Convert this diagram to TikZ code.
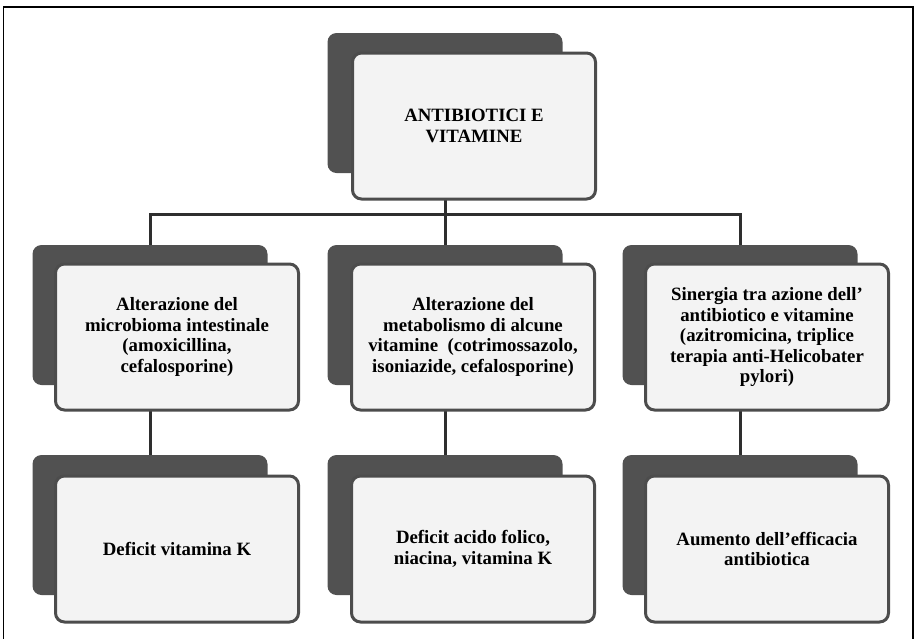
\documentclass[tikz,border=0pt]{standalone}
\usepackage{fontspec}
\setmainfont{Liberation Serif}
\usetikzlibrary{backgrounds}

\definecolor{backgray}{HTML}{515151}
\definecolor{edgegray}{HTML}{4C4C4C}
\definecolor{facegray}{HTML}{F3F3F3}
\definecolor{linkgray}{HTML}{2E2E2E}

\tikzset{
  backbox/.style={rectangle, rounded corners=9pt, fill=backgray, inner sep=0pt,
    minimum width=235pt, minimum height=140pt},
  frontbox/.style={rectangle, rounded corners=9pt, draw=edgegray, line width=3pt,
    fill=facegray, minimum width=243pt, minimum height=146pt, align=center,
    font=\bfseries\fontsize{18.8}{20.5}\selectfont},
  link/.style={draw=linkgray, line width=3pt},
}

\begin{document}
\begin{tikzpicture}[x=1pt, y=-1pt]
\useasboundingbox (0,0) rectangle (918,638);
%% cornice esterna
\draw[line width=1.3pt] (3.5,640) -- (3.5,7) -- (913,7) -- (913,640);

%% riquadri scuri dietro
\node[backbox] (rootback) at (445,103) {};
\node[backbox] (altback1) at (150,315) {};
\node[backbox] (altback2) at (445,315) {};
\node[backbox] (altback3) at (740,315) {};
\node[backbox] (defback1) at (150,525) {};
\node[backbox] (defback2) at (445,525) {};
\node[backbox] (defback3) at (740,525) {};

%% riquadri chiari con testo
\node[frontbox] (root) at (474,126) {ANTIBIOTICI E\\VITAMINE};
\node[frontbox] (alt1) at (177,337) {Alterazione del\\microbioma intestinale\\(amoxicillina,\\cefalosporine)};
\node[frontbox] (alt2) at (473,337) {Alterazione del\\metabolismo di alcune\\vitamine~ (cotrimossazolo,\\isoniazide, cefalosporine)};
\node[frontbox] (alt3) at (767,337) {Sinergia tra azione dell'\\antibiotico e vitamine\\(azitromicina, triplice\\terapia anti-Helicobater\\pylori)};
\node[frontbox] (def1) at (177,549) {Deficit vitamina K};
\node[frontbox] (def2) at (473,549) {Deficit acido folico,\\niacina, vitamina K};
\node[frontbox] (def3) at (767,549) {Aumento dell'efficacia\\antibiotica};

%% collegamenti
\begin{scope}[on background layer]
\coordinate (bus) at (445,214);
\draw[link] (rootback.center) -- (bus);
\draw[link] (altback1.north) |- (bus) -| (altback3.north);
\draw[link] (bus) -- (altback2.north);
\draw[link] (altback1.center) -- (defback1.north);
\draw[link] (altback2.center) -- (defback2.north);
\draw[link] (altback3.center) -- (defback3.north);
\end{scope}
\end{tikzpicture}
\end{document}
